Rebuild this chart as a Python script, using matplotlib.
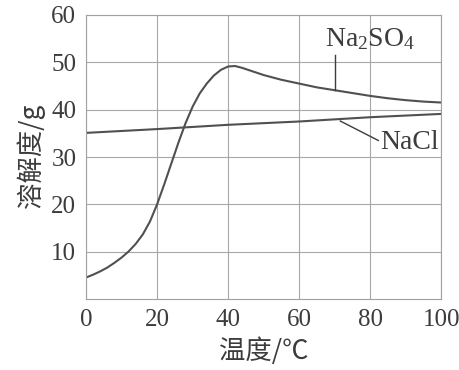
import matplotlib
matplotlib.use("Agg")
import matplotlib.pyplot as plt

# solubility data
temp_na2so4 = [0, 2, 4, 6, 8, 10, 12, 14, 16, 18, 20, 22, 24, 26, 28, 30, 32, 34,
               36, 38, 40, 42, 44, 46, 48, 50, 55, 60, 65, 70, 75, 80, 85, 90, 95, 100]
sol_na2so4 = [4.6, 5.2, 5.9, 6.7, 7.7, 8.8, 10.1, 11.7, 13.7, 16.4, 20.0, 24.2,
              28.6, 33.0, 37.1, 40.6, 43.4, 45.5, 47.2, 48.4, 49.1, 49.2, 48.8,
              48.3, 47.8, 47.3, 46.3, 45.5, 44.7, 44.1, 43.5, 42.9, 42.4, 42.0,
              41.7, 41.5]
temp_nacl = [0, 20, 40, 60, 80, 100]
sol_nacl = [35.1, 35.9, 36.8, 37.5, 38.4, 39.1]

xticks = [0, 20, 40, 60, 80, 100]
yticks = [10, 20, 30, 40, 50, 60]

plt.rcParams['mathtext.fontset'] = 'custom'
plt.rcParams['mathtext.rm'] = 'Liberation Serif'
plt.rcParams['mathtext.it'] = 'Liberation Serif'

ink = "#3c3c3c"
serif = ['Liberation Serif', 'DejaVu Serif']
cjk = ['Noto Sans CJK SC', 'DejaVu Sans']

fig = plt.figure(figsize=(4.6, 3.7), dpi=100)
ax = fig.add_axes([0.187, 0.191, 0.772, 0.769])

ax.plot(temp_na2so4, sol_na2so4, color="#505050", lw=1.5)
ax.plot(temp_nacl, sol_nacl, color="#505050", lw=1.5)

ax.set_xlim(0, 100)
ax.set_ylim(0, 60)
ax.set_xticks(xticks)
ax.set_yticks(yticks)
ax.grid(True, color="#a8a8a8", lw=0.8)
for s in ax.spines.values():
    s.set_color("#a0a0a0")
    s.set_linewidth(0.8)
ax.tick_params(length=0, pad=7, labelsize=18, labelcolor=ink)
for lab in ax.get_xticklabels() + ax.get_yticklabels():
    lab.set_family(serif)

# labels for the curves with leader lines
ax.plot([70, 70], [44.1, 51.5], color=ink, lw=1.0)
ax.text(67.4, 53.3, r'Na$_2$SO$_4$', family=serif, size=20, color=ink,
        ha='left', va='baseline')
ax.plot([71.6, 82.3], [37.6, 33.5], color=ink, lw=1.0)
ax.text(82.9, 31.8, 'NaCl', family=serif, size=20, color=ink,
        ha='left', va='baseline')

fig.text(0.066, 0.58, '溶解度/g', family=cjk, size=19, color=ink,
         rotation=90, ha='center', va='center')
fig.text(0.574, 0.052, '温度/℃', family=cjk, size=19, color=ink,
         ha='center', va='center')

fig.savefig("out.png", dpi=100)
